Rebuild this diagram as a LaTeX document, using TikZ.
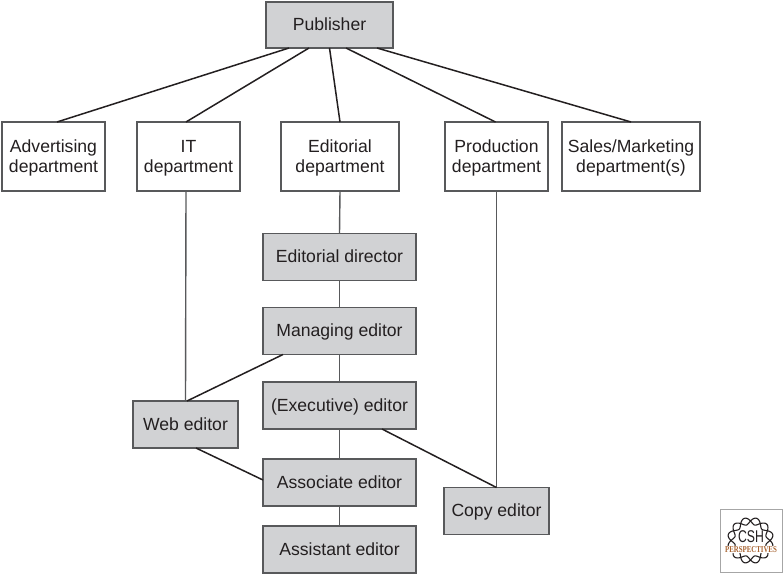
\documentclass[tikz,border=0pt]{standalone}
\usepackage{fontspec}
\setmainfont{Liberation Sans}
\newfontfamily\logofont{Liberation Serif}
\usetikzlibrary{arrows.meta,positioning,calc}
\definecolor{boxgray}{RGB}{209,210,212}
\definecolor{edgegray}{RGB}{88,89,91}
\definecolor{inkblack}{RGB}{35,31,32}
\definecolor{logobrown}{RGB}{168,100,50}
\tikzset{
  whitebox/.style={draw=edgegray, fill=white, line width=1.1pt, inner sep=0pt, outer sep=0pt,
    text=inkblack, align=center, font=\fontsize{17.6}{20.5}\selectfont,
    minimum width=103pt, minimum height=69pt, text height=35.6pt, text depth=3.6pt},
  graybox/.style={whitebox, fill=boxgray, line width=1.3pt,
    minimum width=153pt, minimum height=47pt, text height=15pt, text depth=3.6pt}
}
\tikzset{
  boldlink/.style={draw=inkblack, line width=1.5pt},
  thinlink/.style={draw=edgegray, line width=1.4pt}
}
\begin{document}
\begin{tikzpicture}[x=1pt,y=-1pt]
\useasboundingbox (0,0) rectangle (784,575);

% Top level
\node[graybox, minimum width=127pt, minimum height=46pt] (pub) at (329.5,25) {Publisher};

% Departments
\node[whitebox] (adv) at (53.5,156.5) {Advertising\\department};
\node[whitebox] (it) at (188.5,156.5) {IT\\department};
\node[whitebox, minimum width=118pt] (edit) at (340,156.5) {Editorial\\department};
\node[whitebox] (prod) at (496.5,156.5) {Production\\department};
\node[whitebox, minimum width=138pt] (sales) at (631,156.5) {Sales/Marketing\\department(s)};

% Editors
\node[graybox] (director) at (339.5,257) {Editorial director};
\node[graybox] (managing) at (339.5,331) {Managing editor};
\node[graybox] (exec) at (339.5,405.5) {(Executive) editor};
\node[graybox] (assoc) at (339.5,482.5) {Associate editor};
\node[graybox] (assist) at (339.5,549.5) {Assistant editor};
\node[graybox, minimum width=105pt] (web) at (185.5,424.5) {Web editor};
\node[graybox, minimum width=105pt] (copy) at (496.5,511) {Copy editor};

% Publisher links
\draw[boldlink] ([xshift=-40.5pt]pub.south) -- ([xshift=3.5pt]adv.north);
\draw[boldlink] ([xshift=-20.5pt]pub.south) -- ([xshift=-2.5pt]it.north);
\draw[boldlink] (pub.south) -- (edit.north);
\draw[boldlink] ([xshift=16.5pt]pub.south) -- ([xshift=-1pt]prod.north);
\draw[boldlink] ([xshift=47.5pt]pub.south) -- (sales.north);

% Vertical links
\draw[thinlink] (edit.south) -- (director.north);
\draw[thinlink] (director.south) -- (managing.north);
\draw[thinlink] (managing.south) -- (exec.north);
\draw[thinlink] (exec.south) -- (assoc.north);
\draw[thinlink] (assoc.south) -- (assist.north);
\draw[thinlink] ([xshift=-2.5pt]it.south) -- (web.north);
\draw[thinlink] (prod.south) -- (copy.north);

% Cross links
\draw[boldlink] ([xshift=-56.5pt]managing.south) -- ([xshift=1.5pt]web.north);
\draw[boldlink] ([xshift=10.5pt]web.south) -- ([yshift=2.5pt]assoc.west);
\draw[boldlink] ([xshift=42.5pt]exec.south) -- (copy.north);

% Logo
\node[draw=black!35, fill=white, line width=1pt, minimum width=62pt, minimum height=63pt,
      inner sep=0pt] (logo) at (751,540.5) {};
\draw[inkblack, line width=1.1pt, domain=0:360, samples=240, smooth]
  plot ({750.5+19.5*cos(\x)+3.5*sin(6*\x)*cos(\x)}, {540.5+19.5*sin(\x)+3.5*sin(6*\x)*sin(\x)});
\draw[inkblack, line width=1.1pt, domain=0:360, samples=240, smooth]
  plot ({750.5+19.5*cos(\x)-3.5*sin(6*\x)*cos(\x)}, {540.5+19.5*sin(\x)-3.5*sin(6*\x)*sin(\x)});
\node[fill=white, inner sep=0.5pt, text=logobrown, font=\logofont\fontsize{9}{9}\bfseries\selectfont] (logoname) at (751,549.5)
  {\scalebox{.76}[1]{PERSPECTIVES}};
\node[text=inkblack, inner sep=0pt, font=\fontsize{17}{17}\selectfont] (logocsh) at (751,536.5)
  {\scalebox{.72}[1]{CSH}};

\end{tikzpicture}
\end{document}
